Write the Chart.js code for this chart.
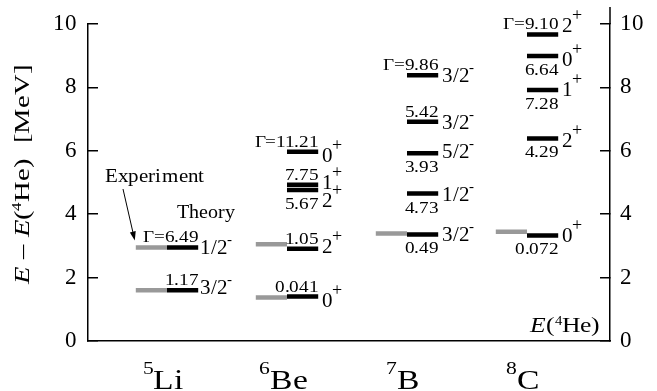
<!DOCTYPE html>
<html>
<head>
<meta charset="utf-8">
<script src="https://cdn.jsdelivr.net/npm/chart.js@4.4.1/dist/chart.umd.min.js"></script>
<style>
    @font-face { font-family: 'LSerif'; font-style: normal; src: local('Liberation Serif'), local('LiberationSerif'), local('LiberationSerif-Regular'); }
    @font-face { font-family: 'LSerif'; font-style: italic; src: local('Liberation Serif Italic'), local('LiberationSerif-Italic'); }
    body { margin: 0; background: #fff; font-family: LSerif, serif; }
    canvas { display: block; }
</style>
</head>
<body>
<canvas id="levels" width="657" height="391"></canvas>
<script>
const nuclei = ['Li', 'Be', 'B', 'C'];
const massNumbers = ['5', '6', '7', '8'];
const experimentLevels = [[2.95, 1.60], [3.05, 1.37], [3.39], [3.45]];
const theoryLevels = [
    [2.95, 1.60],
    [5.97, 4.93, 4.76, 2.91, 1.40],
    [8.38, 6.92, 5.92, 4.65, 3.36],
    [9.67, 8.99, 7.92, 6.39, 3.33]
];
const widthLabels = [
    ['Γ=6.49', '1.17'],
    ['Γ=11.21', '7.75', '5.67', '1.05', '0.041'],
    ['Γ=9.86', '5.42', '3.93', '4.73', '0.49'],
    ['Γ=9.10', '6.64', '7.28', '4.29', '0.072']
];
const spinLabels = [
    ['1/2-', '3/2-'],
    ['0+', '1+', '2+', '2+', '0+'],
    ['3/2-', '3/2-', '5/2-', '1/2-', '3/2-'],
    ['2+', '0+', '1+', '2+', '0+']
];

// where the width text sits (u = above the level, d = below) and small px nudges for crowded spins
const widthSide = [['u', 'u'], ['u', 'u', 'd', 'u', 'u'], ['u', 'u', 'd', 'd', 'd'], ['u', 'd', 'd', 'd', 'd']];
const spinShift = [[0, -3], [3, -3, 10, -3, 3], [0, 0, -2, 0, 0], [-9, 3, -1, 2, 0]];

const SERIF = 'LSerif, "Liberation Serif", "Times New Roman", serif';
const HALF = 0.26;

function levelSegments(levels, from, to) {
    const points = [];
    levels.forEach((list, i) => {
        list.forEach(e => {
            points.push({x: i + 1 + from, y: e}, {x: i + 1 + to, y: e}, {x: i + 1 + to, y: null});
        });
    });
    return points;
}

// draws a run of text pieces (sizes, italics, raised bits), optionally widened by sx
function drawRich(ctx, parts, x, y, align, sx = 1) {
    let total = 0;
    parts.forEach(p => {
        ctx.font = (p.italic ? 'italic ' : '') + p.size + 'px ' + SERIF;
        p.w = ctx.measureText(p.t).width + (p.kern || 0);
        total += p.w;
    });
    const start = align === 'right' ? x - total * sx : (align === 'center' ? x - total * sx / 2 : x);
    ctx.save();
    ctx.translate(start, y);
    ctx.scale(sx, 1);
    ctx.textAlign = 'left';
    ctx.textBaseline = 'alphabetic';
    let cx = 0;
    parts.forEach(p => {
        ctx.font = (p.italic ? 'italic ' : '') + p.size + 'px ' + SERIF;
        ctx.fillText(p.t, cx + (p.kern || 0), -(p.rise || 0));
        cx += p.w;
    });
    ctx.restore();
}

const annotations = {
    id: 'annotations',
    afterDraw(chart) {
        const ctx = chart.ctx;
        const xs = chart.scales.x;
        const ys = chart.scales.y;
        const area = chart.chartArea;
        ctx.save();
        ctx.fillStyle = '#000';
        ctx.strokeStyle = '#000';

        // right spine runs a little above the top tick
        ctx.lineWidth = 1.5;
        ctx.beginPath();
        ctx.moveTo(area.right, area.top);
        ctx.lineTo(area.right, area.top - 17);
        ctx.stroke();

        theoryLevels.forEach((list, i) => {
            const right = xs.getPixelForValue(i + 1 + HALF);
            list.forEach((e, j) => {
                const py = ys.getPixelForValue(e);
                const wy = widthSide[i][j] === 'u' ? py - 5 : py + 19;
                drawRich(ctx, [{t: widthLabels[i][j], size: 16}], right, wy, 'right', 1.2);

                const s = spinLabels[i][j];
                const sign = s.slice(-1);
                const base = py + spinShift[i][j] + 7;
                drawRich(ctx, [
                    {t: s.slice(0, -1), size: 21},
                    sign === '+' ? {t: '+', size: 18, rise: 12, kern: -1} : {t: '-', size: 15, rise: 10, kern: -1}
                ], right + (i === 0 ? 2 : 4), base, 'left');
            });
        });

        nuclei.forEach((name, i) => {
            const cx = xs.getPixelForValue(i + 1) - 4;
            drawRich(ctx, [
                {t: massNumbers[i], size: 18, rise: 15},
                {t: name, size: 28}
            ], cx, 389, 'center', 1.2);
        });

        drawRich(ctx, [{t: 'Experiment', size: 20}], 105, 182, 'left', 1.05);
        drawRich(ctx, [{t: 'Theory', size: 20}], 177, 218, 'left');

        // arrow from the Experiment label to the 5Li bar
        const tipX = xs.getPixelForValue(1 - HALF) - 1;
        const tipY = ys.getPixelForValue(experimentLevels[0][0]) - 7;
        const fromX = 123, fromY = 189;
        const ang = Math.atan2(tipY - fromY, tipX - fromX);
        ctx.lineWidth = 1;
        ctx.beginPath();
        ctx.moveTo(fromX, fromY);
        ctx.lineTo(tipX - 6 * Math.cos(ang), tipY - 6 * Math.sin(ang));
        ctx.stroke();
        ctx.beginPath();
        ctx.moveTo(tipX, tipY);
        ctx.lineTo(tipX - 9 * Math.cos(ang) + 3 * Math.sin(ang), tipY - 9 * Math.sin(ang) - 3 * Math.cos(ang));
        ctx.lineTo(tipX - 9 * Math.cos(ang) - 3 * Math.sin(ang), tipY - 9 * Math.sin(ang) + 3 * Math.cos(ang));
        ctx.closePath();
        ctx.fill();

        drawRich(ctx, [
            {t: 'E', size: 21, italic: true},
            {t: '(', size: 21},
            {t: '4', size: 12, rise: 7},
            {t: 'He)', size: 21}
        ], area.right - 10, area.bottom - 9, 'right', 1.22);

        ctx.translate(21, (area.top + area.bottom) / 2 - 8);
        ctx.rotate(-Math.PI / 2);
        drawRich(ctx, [
            {t: 'E', size: 22, italic: true},
            {t: ' \u2013 ', size: 22},
            {t: 'E', size: 22, italic: true},
            {t: '(', size: 22},
            {t: '4', size: 13, rise: 8},
            {t: 'He)  [MeV]', size: 22}
        ], 0, 8, 'center', 1.3);
        ctx.restore();
    }
};

function fixWidth(width) {
    return (scale) => {
        scale.width = width;
        scale.paddingTop = 8;
        scale.paddingBottom = 8;
    };
}

class Main {
    constructor() {
        this.canvas = document.getElementById('levels');
        Promise.all([
            document.fonts.load('20px LSerif'),
            document.fonts.load('italic 20px LSerif')
        ]).catch(() => null).then(() => this.initChart());
    }

    initChart() {
        const tickFont = {family: SERIF, size: 23};
        const config = {
            type: 'line',
            data: {
                datasets: [
                    {
                        label: 'Experiment',
                        data: levelSegments(experimentLevels, -HALF, 0),
                        borderColor: '#999999',
                        borderWidth: 4.5,
                        borderCapStyle: 'butt',
                        pointRadius: 0,
                        spanGaps: false
                    },
                    {
                        label: 'Theory',
                        data: levelSegments(theoryLevels, 0, HALF),
                        borderColor: '#000000',
                        borderWidth: 4.5,
                        borderCapStyle: 'butt',
                        pointRadius: 0,
                        spanGaps: false
                    }
                ]
            },
            options: {
                responsive: false,
                animation: false,
                layout: {padding: {top: 24, left: 0, right: 0, bottom: 0}},
                plugins: {
                    legend: {display: false},
                    tooltip: {enabled: false}
                },
                scales: {
                    x: {
                        type: 'linear',
                        min: 0.3417,
                        max: 4.6917,
                        ticks: {display: false},
                        grid: {display: false},
                        border: {display: true, color: '#000', width: 1.5},
                        afterFit: (scale) => { scale.height = 50; }
                    },
                    y: {
                        position: 'left',
                        min: 0,
                        max: 10,
                        ticks: {stepSize: 2, color: '#000', font: tickFont, padding: 21},
                        grid: {drawOnChartArea: false, tickLength: -10, color: '#000', lineWidth: 1.5},
                        border: {color: '#000', width: 1.5},
                        afterFit: fixWidth(88)
                    },
                    y2: {
                        position: 'right',
                        min: 0,
                        max: 10,
                        ticks: {stepSize: 2, color: '#000', font: tickFont, padding: 20},
                        grid: {drawOnChartArea: false, tickLength: -10, color: '#000', lineWidth: 1.5},
                        border: {color: '#000', width: 1.5},
                        afterFit: fixWidth(47)
                    }
                }
            },
            plugins: [annotations]
        };
        new Chart(this.canvas, config);
    }
}

window.onload = () => {
    new Main();
}
</script>
</body>
</html>
